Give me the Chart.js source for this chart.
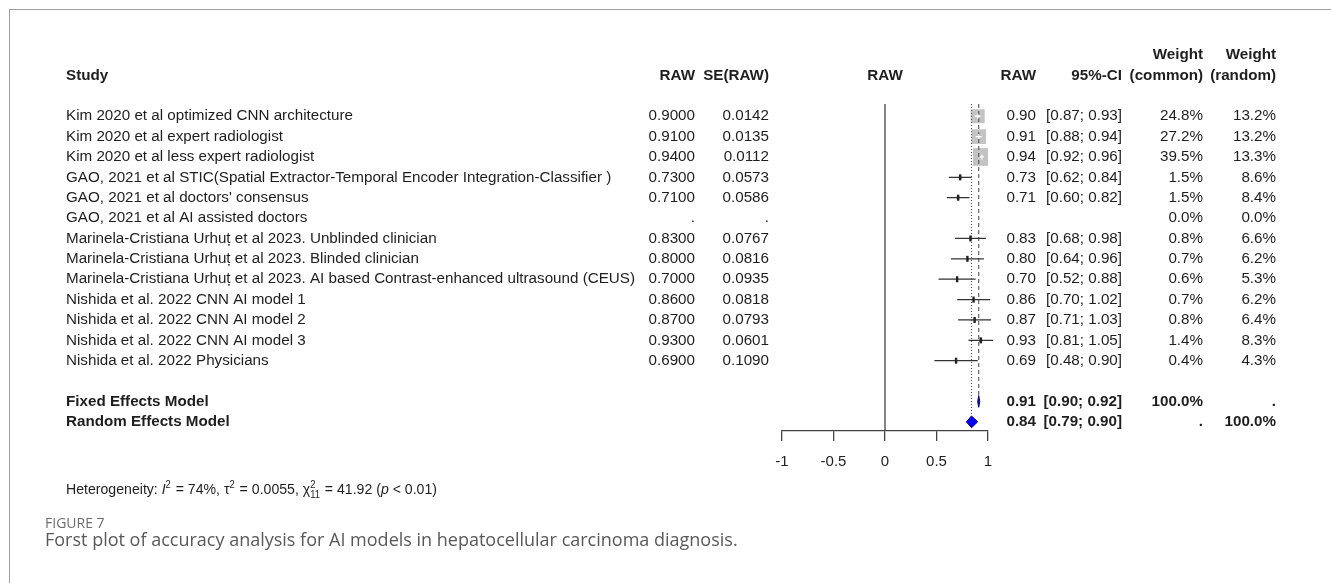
<!DOCTYPE html>
<html>
<head>
<meta charset="utf-8">
<script src="https://cdn.jsdelivr.net/npm/chart.js@4.4.1/dist/chart.umd.min.js"></script>
<style>
  html, body { margin: 0; padding: 0; background: #fff; }
  body { width: 1331px; height: 583px; position: relative; overflow: hidden; }
  #frame { position: absolute; left: 9px; top: 9px; right: 0; bottom: 0;
           border-top: 1px solid #a0a0a0; border-left: 1px solid #a0a0a0; }
  #forest { position: absolute; left: 0; top: 0; }
  .figno { position: absolute; left: 45px; top: 513px; font: 14px/normal "Open Sans", sans-serif; color: #6d6d6d; }
  .caption { position: absolute; left: 45px; top: 527px; font: 18px/normal "Open Sans", sans-serif; color: #595959; white-space: nowrap; }
</style>
</head>
<body>
<div id="frame"></div>
<canvas id="forest" width="1331" height="583"></canvas>
<div class="figno">FIGURE 7</div>
<div class="caption">Forst plot of accuracy analysis for AI models in hepatocellular carcinoma diagnosis.</div>
<script>
// study rows
const studies = [
  'Kim 2020 et al optimized CNN architecture',
  'Kim 2020 et al expert radiologist',
  'Kim 2020 et al less expert radiologist',
  'GAO, 2021 et al STIC(Spatial Extractor-Temporal Encoder Integration-Classifier )',
  "GAO, 2021 et al doctors' consensus",
  'GAO, 2021 et al AI assisted doctors',
  'Marinela-Cristiana Urhuț et al 2023. Unblinded clinician',
  'Marinela-Cristiana Urhuț et al 2023. Blinded clinician',
  'Marinela-Cristiana Urhuț et al 2023. AI based Contrast-enhanced ultrasound (CEUS)',
  'Nishida et al. 2022 CNN AI model 1',
  'Nishida et al. 2022 CNN AI model 2',
  'Nishida et al. 2022 CNN AI model 3',
  'Nishida et al. 2022 Physicians',
];
const rawValues = [0.90, 0.91, 0.94, 0.73, 0.71, null, 0.83, 0.80, 0.70, 0.86, 0.87, 0.93, 0.69];
const seValues = [0.0142, 0.0135, 0.0112, 0.0573, 0.0586, null, 0.0767, 0.0816, 0.0935, 0.0818, 0.0793, 0.0601, 0.1090];
const ciLower = [0.87, 0.88, 0.92, 0.62, 0.60, null, 0.68, 0.64, 0.52, 0.70, 0.71, 0.81, 0.48];
const ciUpper = [0.93, 0.94, 0.96, 0.84, 0.82, null, 0.98, 0.96, 0.88, 1.02, 1.03, 1.05, 0.90];
const weightCommon = [24.8, 27.2, 39.5, 1.5, 1.5, 0.0, 0.8, 0.7, 0.6, 0.7, 0.8, 1.4, 0.4];
const weightRandom = [13.2, 13.2, 13.3, 8.6, 8.4, 0.0, 6.6, 6.2, 5.3, 6.2, 6.4, 8.3, 4.3];

// pooled rows
const pooledLabels = ['Fixed Effects Model', 'Random Effects Model'];
const pooledEst = [0.91, 0.84];
const pooledLower = [0.90, 0.79];
const pooledUpper = [0.92, 0.90];
const pooledWeightCommon = ['100.0%', '.'];
const pooledWeightRandom = ['.', '100.0%'];

const xTicks = [-1, -0.5, 0, 0.5, 1];

// row index layout: studies 0..12, blank, fixed 14, random 15
const pooledRows = [14, 15];
const yMin = -0.6, yMax = 15.45;
const diamondHalf = 0.29;

const FONT = '"Liberation Sans", Arial, sans-serif';
const INK = '#1e1e1e';
const SIZE = 15.2;

const studyIdx = studies.map((_, i) => i).filter(i => rawValues[i] !== null);
const isBig = i => weightCommon[i] >= 10;

// CI segments, split by null gaps
function ciData(filter) {
  const out = [];
  studyIdx.filter(filter).forEach(i => {
    out.push({x: ciLower[i], y: i}, {x: ciUpper[i], y: i}, {x: null, y: null});
  });
  return out;
}

function diamond(k) {
  const r = pooledRows[k];
  return [
    {x: pooledLower[k], y: r},
    {x: pooledEst[k], y: r - diamondHalf},
    {x: pooledUpper[k], y: r},
    {x: pooledEst[k], y: r + diamondHalf},
    {x: pooledLower[k], y: r},
  ];
}

const datasets = [
  { // point estimate ticks
    label: 'est',
    data: studyIdx.map(i => ({x: rawValues[i], y: i})),
    pointStyle: 'line', rotation: 90,
    pointRadius: studyIdx.map(i => isBig(i) ? 2.5 : 3),
    pointBorderWidth: studyIdx.map(i => isBig(i) ? 1.2 : 2.4),
    pointBorderColor: studyIdx.map(i => isBig(i) ? '#ffffff' : '#222222'),
    showLine: false, clip: false,
  },
  {
    label: 'ciWhite', data: ciData(isBig), showLine: true, spanGaps: false,
    borderColor: '#ffffff', borderWidth: 1.2, pointRadius: 0, clip: false,
  },
  {
    label: 'ciDark', data: ciData(i => !isBig(i)), showLine: true, spanGaps: false,
    borderColor: '#333333', borderWidth: 1.3, pointRadius: 0, clip: false,
  },
  {
    label: 'fixedLine',
    data: [{x: pooledEst[0], y: yMin}, {x: pooledEst[0], y: pooledRows[0] - diamondHalf}],
    showLine: true, borderColor: '#555555', borderWidth: 1.1, borderDash: [4, 3], pointRadius: 0,
  },
  {
    label: 'randomLine',
    data: [{x: pooledEst[1], y: yMin}, {x: pooledEst[1], y: pooledRows[1] - diamondHalf}],
    showLine: true, borderColor: '#555555', borderWidth: 1.1, borderDash: [1, 2], pointRadius: 0,
  },
  {
    label: 'zero',
    data: [{x: 0, y: yMin}, {x: 0, y: yMax}],
    showLine: true, borderColor: '#444444', borderWidth: 1.3, pointRadius: 0,
  },
  { // weight squares, area proportional to common weight
    label: 'squares',
    data: studyIdx.map(i => ({x: rawValues[i], y: i})),
    pointStyle: 'rect',
    pointRadius: studyIdx.map(i => 14 * Math.sqrt(weightCommon[i] / 24.8) / Math.SQRT2),
    pointBackgroundColor: '#c3c3c3', pointBorderColor: '#c3c3c3', pointBorderWidth: 0,
    showLine: false,
  },
  {
    label: 'fixed', data: diamond(0), showLine: true, fill: 'shape',
    backgroundColor: '#0000ff', borderColor: '#00007a', borderWidth: 1, pointRadius: 0,
  },
  {
    label: 'random', data: diamond(1), showLine: true, fill: 'shape',
    backgroundColor: '#0000ff', borderColor: '#00007a', borderWidth: 1, pointRadius: 0,
  },
];

function fmtPct(v) { return v.toFixed(1) + '%'; }

const tablePlugin = {
  id: 'tableText',
  afterDraw(chart) {
    const ctx = chart.ctx;
    const py = v => chart.scales.y.getPixelForValue(v);
    const text = (s, x, y, align, bold) => {
      ctx.font = (bold ? 'bold ' : '') + SIZE + 'px ' + FONT;
      ctx.textAlign = align;
      ctx.fillText(s, x, y);
    };
    ctx.save();
    ctx.fillStyle = INK;
    ctx.textBaseline = 'middle';

    // headers
    const h1 = py(-3), h2 = py(-2);
    text('Study', 66, h2, 'left', true);
    text('RAW', 695, h2, 'right', true);
    text('SE(RAW)', 769, h2, 'right', true);
    text('RAW', 885, h2, 'center', true);
    text('RAW', 1036, h2, 'right', true);
    text('95%-CI', 1122, h2, 'right', true);
    text('Weight', 1203, h1, 'right', true);
    text('(common)', 1203, h2, 'right', true);
    text('Weight', 1276, h1, 'right', true);
    text('(random)', 1276, h2, 'right', true);

    // study rows
    studies.forEach((name, i) => {
      const y = py(i);
      text(name, 66, y, 'left', false);
      if (rawValues[i] === null) {
        text('.', 695, y, 'right', false);
        text('.', 769, y, 'right', false);
      } else {
        text(rawValues[i].toFixed(4), 695, y, 'right', false);
        text(seValues[i].toFixed(4), 769, y, 'right', false);
        text(rawValues[i].toFixed(2), 1036, y, 'right', false);
        text('[' + ciLower[i].toFixed(2) + '; ' + ciUpper[i].toFixed(2) + ']', 1122, y, 'right', false);
      }
      text(fmtPct(weightCommon[i]), 1203, y, 'right', false);
      text(fmtPct(weightRandom[i]), 1276, y, 'right', false);
    });

    // pooled rows
    pooledLabels.forEach((name, k) => {
      const y = py(pooledRows[k]);
      text(name, 66, y, 'left', true);
      text(pooledEst[k].toFixed(2), 1036, y, 'right', true);
      text('[' + pooledLower[k].toFixed(2) + '; ' + pooledUpper[k].toFixed(2) + ']', 1122, y, 'right', true);
      text(pooledWeightCommon[k], 1203, y, 'right', true);
      text(pooledWeightRandom[k], 1276, y, 'right', true);
    });

    // heterogeneity line (narrow, with super/subscripts)
    const parts = [
      ['Heterogeneity: ', 'n'], ['I', 'i'], ['2', 'sup'], [' = 74%, τ', 'n'], ['2', 'sup'],
      [' = 0.0055, χ', 'n'], ['2|11', 'supsub'], [' = 41.92 (', 'n'], ['p', 'i'], [' < 0.01)', 'n'],
    ];
    const base = 15, small = 10;
    const fontFor = t => (t === 'i' ? 'italic ' : '') + ((t === 'sup' || t === 'supsub') ? small : base) + 'px ' + FONT;
    const widthOf = ([s, t]) => {
      ctx.font = fontFor(t);
      if (t === 'supsub') return Math.max(...s.split('|').map(p => ctx.measureText(p).width)) + 1;
      return ctx.measureText(s).width + (t === 'sup' ? 1 : 0);
    };
    const natural = parts.reduce((a, p) => a + widthOf(p), 0);
    const hy = py(18.3);
    ctx.translate(66, hy);
    ctx.scale(371 / natural, 1);
    ctx.textAlign = 'left';
    ctx.textBaseline = 'alphabetic';
    let cx = 0;
    const baseline = 5;
    parts.forEach(p => {
      const [s, t] = p;
      ctx.font = fontFor(t);
      if (t === 'sup') ctx.fillText(s, cx, baseline - 6);
      else if (t === 'supsub') {
        const [a, b] = s.split('|');
        ctx.fillText(a, cx, baseline - 6);
        ctx.fillText(b, cx, baseline + 4);
      } else ctx.fillText(s, cx, baseline);
      cx += widthOf(p);
    });
    ctx.restore();
  },
};

Chart.defaults.font.family = FONT;

new Chart(document.getElementById('forest').getContext('2d'), {
  type: 'scatter',
  data: { datasets },
  options: {
    responsive: false,
    animation: false,
    events: [],
    layout: { padding: { left: 782, right: 343, top: 104, bottom: 0 } },
    plugins: { legend: { display: false }, tooltip: { enabled: false } },
    scales: {
      x: {
        type: 'linear', min: -1, max: 1,
        afterBuildTicks: s => { s.ticks = xTicks.map(v => ({value: v})); },
        afterFit: s => { s.height = 152; },
        border: { display: true, color: '#444444', width: 1.3 },
        grid: { drawOnChartArea: false, drawTicks: true, tickLength: 10, color: '#444444', lineWidth: 1.3 },
        ticks: { color: INK, font: { size: 15 }, padding: 12, callback: v => String(v) },
      },
      y: {
        type: 'linear', min: yMin, max: yMax, reverse: true, display: false,
      },
    },
  },
  plugins: [tablePlugin],
});
</script>
</body>
</html>
